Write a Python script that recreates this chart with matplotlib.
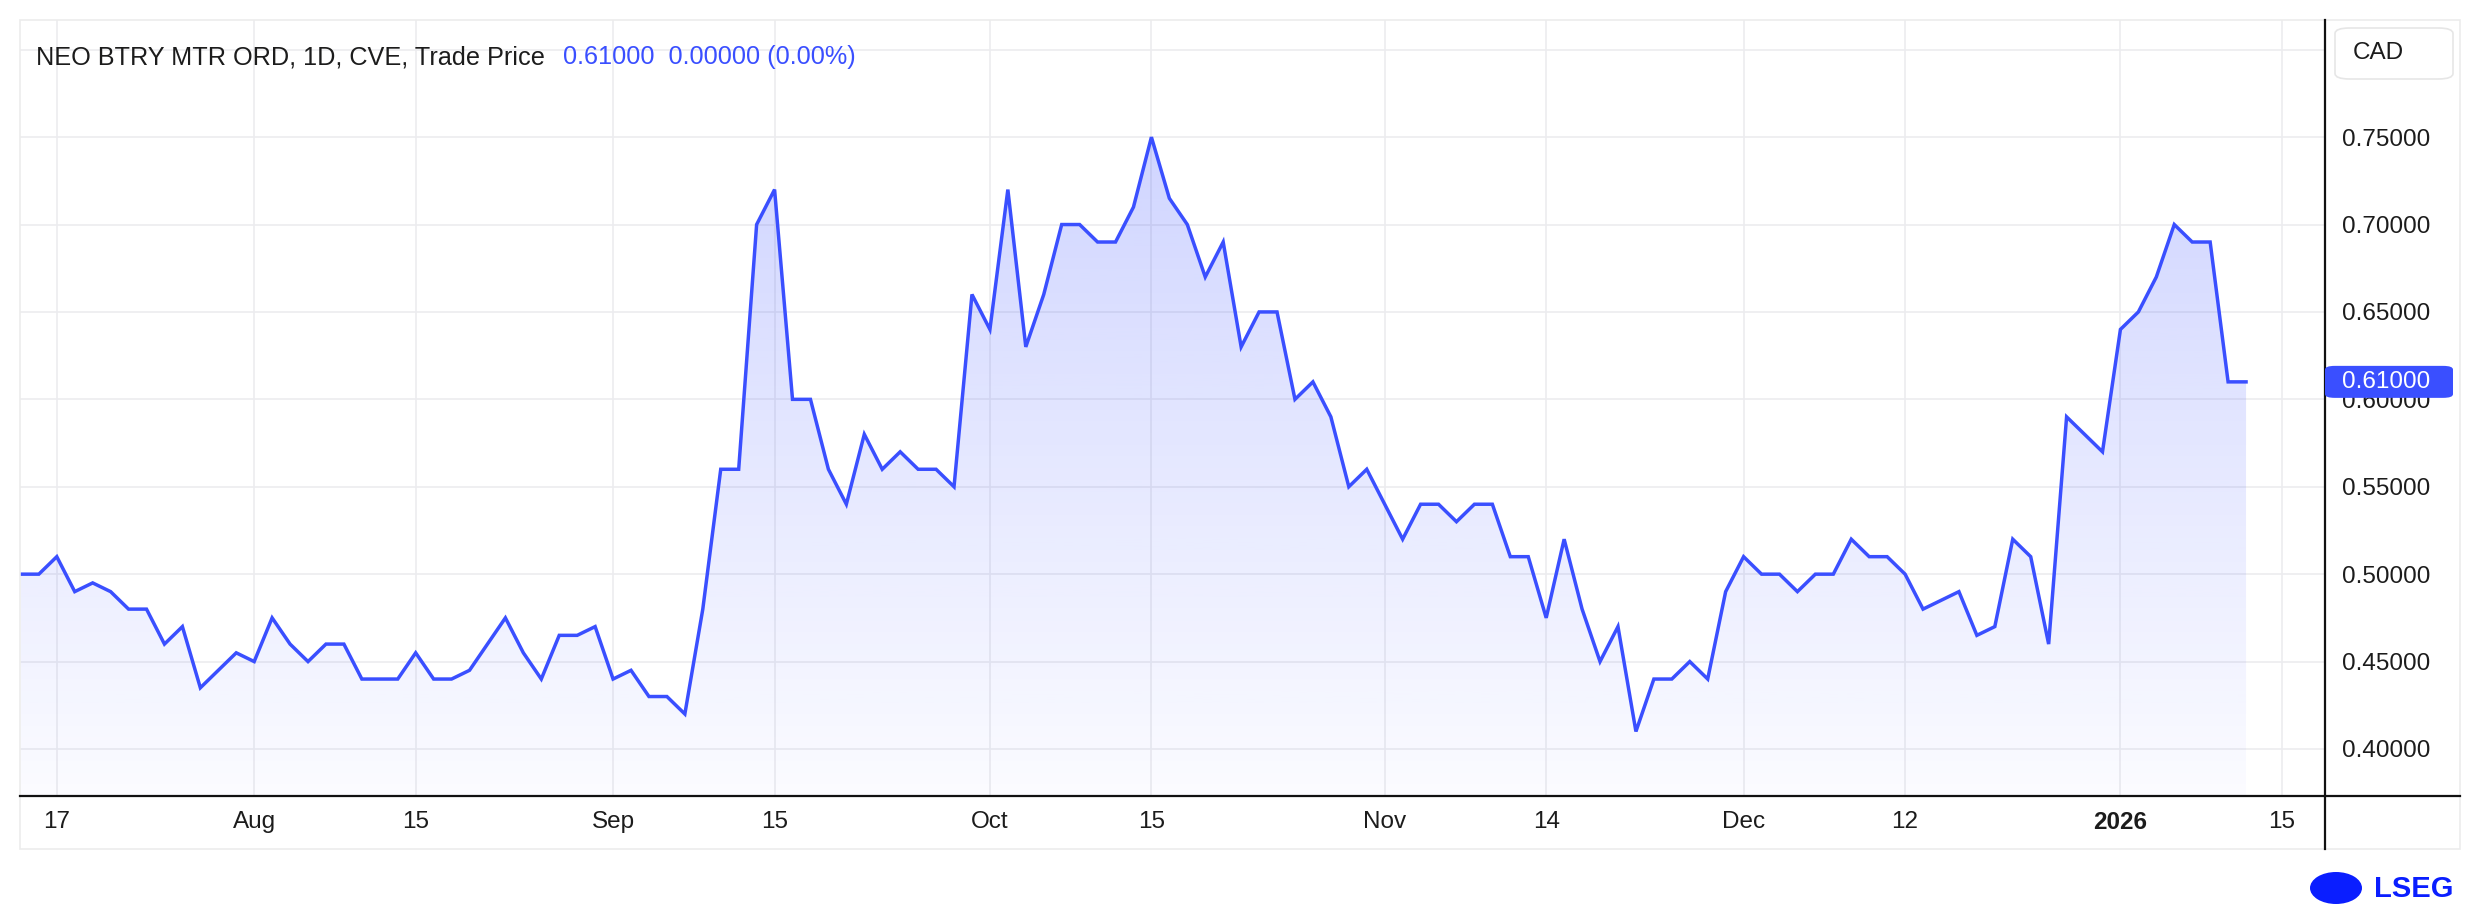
import numpy as np
import pandas as pd
import matplotlib
matplotlib.use('Agg')
import matplotlib.pyplot as plt
from matplotlib.patches import FancyBboxPatch, Rectangle, Ellipse
from matplotlib.lines import Line2D
from matplotlib.colors import to_rgb

plt.rcParams['font.family'] = ['Liberation Sans', 'DejaVu Sans']

# daily closes, CAD
jul = [0.50, 0.50, 0.51, 0.49, 0.495, 0.49, 0.48, 0.48, 0.46, 0.47, 0.435, 0.445, 0.455]
aug = [0.45, 0.475, 0.46, 0.45, 0.46, 0.46, 0.44, 0.44, 0.44, 0.455,
       0.44, 0.44, 0.445, 0.46, 0.475, 0.455, 0.44, 0.465, 0.465, 0.47]
sep = [0.44, 0.445, 0.43, 0.43, 0.42, 0.48, 0.56, 0.56, 0.70, 0.72, 0.60,
       0.60, 0.56, 0.54, 0.58, 0.56, 0.57, 0.56, 0.56, 0.55, 0.66]
octo = [0.64, 0.72, 0.63, 0.66, 0.70, 0.70, 0.69, 0.69, 0.71, 0.75, 0.715,
        0.70, 0.67, 0.69, 0.63, 0.65, 0.65, 0.60, 0.61, 0.59, 0.55, 0.56]
nov = [0.54, 0.52, 0.54, 0.54, 0.53, 0.54, 0.54, 0.51, 0.51, 0.475,
       0.52, 0.48, 0.45, 0.47, 0.41, 0.44, 0.44, 0.45, 0.44, 0.49]
dec = [0.51, 0.50, 0.50, 0.49, 0.50, 0.50, 0.52, 0.51, 0.51, 0.50, 0.48,
       0.485, 0.49, 0.465, 0.47, 0.52, 0.51, 0.46, 0.59, 0.58, 0.57]
jan = [0.64, 0.65, 0.67, 0.70, 0.69, 0.69, 0.61, 0.61]
closes = np.array(jul + aug + sep + octo + nov + dec + jan)

# TSXV trading calendar (x axis is trading days)
holidays = ['2025-08-04', '2025-09-01', '2025-10-13', '2025-12-25', '2025-12-26', '2026-01-01']
days = pd.bdate_range('2025-07-15', '2026-01-16')
days = days[~days.isin(pd.to_datetime(holidays))]
x = np.arange(len(closes))

tick_dates = ['2025-07-17', '2025-08-01', '2025-08-15', '2025-09-02', '2025-09-15',
              '2025-10-01', '2025-10-15', '2025-11-03', '2025-11-14', '2025-12-01',
              '2025-12-12', '2026-01-02', '2026-01-15']
tick_labels = ['17', 'Aug', '15', 'Sep', '15', 'Oct', '15', 'Nov', '14', 'Dec', '12', '2026', '15']
tick_pos = [days.get_loc(pd.Timestamp(d)) for d in tick_dates]
yticks = [0.40, 0.45, 0.50, 0.55, 0.60, 0.65, 0.70, 0.75]

last = closes[-1]
title = 'NEO BTRY MTR ORD, 1D, CVE, Trade Price'
quote = '0.61000  0.00000 (0.00%)'

blue = '#3a4fff'
txt = '#1c1c1c'
grid_c = '#ececef'

W, H = 2474, 910
def fx(p): return p / W
def fy(p): return 1 - p / H

fig = plt.figure(figsize=(W / 100, H / 100), dpi=100)
ax = fig.add_axes([fx(20), fy(796), fx(2325) - fx(20), fy(20) - fy(796)])

ylo, yhi = 0.3731, 0.8170

ax.plot(x, closes, color=blue, lw=2.5, zorder=3, solid_joinstyle='miter')
poly = ax.fill_between(x, closes, ylo, color='none', lw=0)

grad = np.zeros((256, 1, 4))
grad[..., :3] = to_rgb(blue)
grad[..., 3] = np.linspace(0.24, 0.02, 256)[:, None]
im = ax.imshow(grad, extent=[x[0], x[-1], ylo, closes.max()], aspect='auto',
               origin='upper', zorder=2)
im.set_clip_path(poly.get_paths()[0], transform=ax.transData)

ax.set_xlim(-0.05, 128.4)
ax.set_ylim(ylo, yhi)
ax.set_xticks(tick_pos)
ax.set_xticklabels(tick_labels)
ax.get_xticklabels()[11].set_fontweight('bold')
ax.set_yticks(yticks)
ax.set_yticklabels(['%.5f' % v for v in yticks])
ax.yaxis.tick_right()
ax.tick_params(axis='x', length=0, pad=10.5, labelsize=17.5, labelcolor=txt)
ax.tick_params(axis='y', length=0, pad=12, labelsize=17.5, labelcolor=txt)
for s in ax.spines.values():
    s.set_visible(False)
ax.grid(True, color=grid_c, lw=1.2)
ax.axhline(0.80, color=grid_c, lw=1.2, zorder=0)
ax.set_axisbelow(True)

# outer frame and the black axis lines
fig.add_artist(Rectangle((fx(20), fy(849)), fx(2460) - fx(20), fy(20) - fy(849),
                         transform=fig.transFigure, fill=False, ec='#ececec', lw=1.2))
fig.add_artist(Line2D([fx(20), fx(2460)], [fy(796), fy(796)], color='#111111', lw=1.6))
fig.add_artist(Line2D([fx(2325), fx(2325)], [fy(20), fy(849)], color='#111111', lw=1.6))

# title line
t1 = fig.text(fx(36), fy(57), title, fontsize=18.2, color=txt, va='center')
r = fig.canvas.get_renderer()
bb = t1.get_window_extent(r)
fig.text((bb.x1 + 18) / W, fy(57), quote, fontsize=18.2, color=blue, va='center')

# currency box
fig.add_artist(FancyBboxPatch((fx(2335), fy(79)), fx(2453) - fx(2335), fy(28) - fy(79),
                              boxstyle='round,pad=0,rounding_size=0.006',
                              transform=fig.transFigure, fc='white', ec='#e6e6e6', lw=1.2))
fig.text(fx(2353), fy(53), 'CAD', fontsize=17.5, color=txt, va='center')

# last price tag
yc = ax.transData.transform((0, last))[1]
fig.add_artist(FancyBboxPatch((fx(2325), (yc - 16) / H), fx(2453) - fx(2325), 32 / H,
                              boxstyle='round,pad=0,rounding_size=0.004',
                              transform=fig.transFigure, fc=blue, ec='none', zorder=5))
fig.text(fx(2342), yc / H, '%.5f' % last, fontsize=17.5, color='white', va='center', zorder=6)

# LSEG mark
fig.add_artist(Ellipse((fx(2336), fy(888)), fx(52) - fx(0), 32 / H,
                       transform=fig.transFigure, fc='#0a1eff', ec='none'))
fig.text(fx(2374), fy(889), 'LSEG', fontsize=21, fontweight='bold', color='#0a1eff', va='center')

fig.savefig('out.png', dpi=100)
